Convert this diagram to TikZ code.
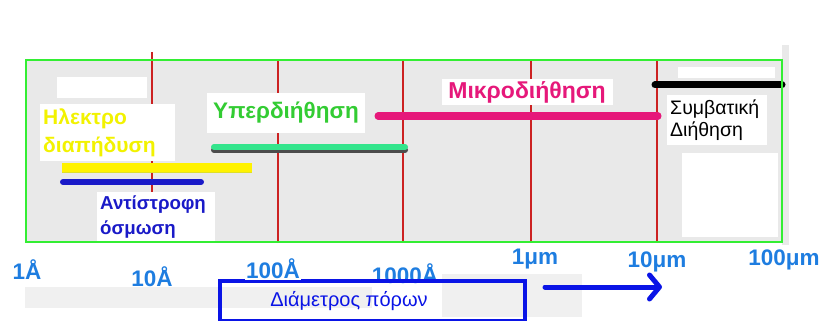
\documentclass[tikz,border=0pt]{standalone}
\usepackage{fontspec}
\setmainfont{Liberation Sans}
\usetikzlibrary{arrows.meta,positioning}

\definecolor{framegreen}{HTML}{33EE33}
\definecolor{gridred}{HTML}{CC2222}
\definecolor{scangray}{HTML}{E9E9E9}
\definecolor{edyellow}{HTML}{F2F200}
\definecolor{ufgreen}{HTML}{33CC33}
\definecolor{ufmint}{HTML}{33E58C}
\definecolor{mfpink}{HTML}{E6187A}
\definecolor{rodark}{HTML}{1A1AC8}
\definecolor{tickblue}{HTML}{1E7DE0}
\definecolor{boxblue}{HTML}{0A14E6}

\begin{document}
\begin{tikzpicture}[x=1pt, y=-1pt,
    every node/.style={inner sep=2pt},
    cover/.style={fill=white, inner sep=3pt, align=left, anchor=north west},
    bar/.style={line width=7pt, line cap=round},
    ticklabel/.style={text=tickblue, font=\bfseries\fontsize{22.5}{24}\selectfont},
]
\useasboundingbox (0,0) rectangle (820,321);

% scanned background and grid
\fill[scangray] (26,60) rectangle (782,242);
\fill[scangray] (782,45) rectangle (789,245);
\fill[gray!12] (25,287) rectangle (372,308);
\fill[gray!12] (442,274) rectangle (582,317);
\foreach \x/\top in {152/52, 278/60, 403/60, 531/60, 657/60}
  \draw[gridred, line width=1.8pt] (\x,\top) -- (\x,242);

% white patches of the scan
\fill[white] (57,77) rectangle (147,98);
\fill[white] (678,67) rectangle (775,78);
\fill[white] (682,153) rectangle (778,237);

% labels of the processes
\node[cover, text=edyellow, font=\bfseries\fontsize{21}{28}\selectfont,
      text width=129pt, minimum height=57pt] (edlabel) at (40,104) {Ηλεκτρο\\διαπήδυση};
\node[fill=white, text=ufgreen, font=\bfseries\fontsize{22.5}{24}\selectfont,
      minimum width=158pt, minimum height=40pt] (uflabel) at (286,113) {Υπερδιήθηση};
\node[fill=white, text=mfpink, font=\bfseries\fontsize{23}{24}\selectfont,
      minimum width=171pt, minimum height=25pt] (mflabel) at (527,92) {Μικροδιήθηση};
\node[cover, text=rodark, font=\bfseries\fontsize{18.7}{25}\selectfont,
      text width=112pt, minimum height=49pt] (rolabel) at (97,192) {Αντίστροφη\\όσμωση};
\node[cover, text=black, font=\fontsize{19.5}{22}\selectfont,
      text width=94pt, minimum height=50pt] (cflabel) at (667,95) {Συμβατική\\Διήθηση};

% ranges
\draw[bar, mfpink] (378,116) -- (658,116);
\draw[bar, black] (655,85) -- (782,85);
\draw[bar, black!70, line width=6pt] (214,150) -- (405,150);
\draw[bar, ufmint, line width=6pt] (214,147) -- (405,147);
\draw[line width=9pt, edyellow!90!black!85] (62,168) -- (252,168);
\draw[line width=9pt, yellow] (62,167) -- (252,167);
\draw[bar, rodark, line width=6pt] (63,182) -- (201,182);

% frame
\draw[framegreen, line width=2.5pt] (26,60) rectangle (782,242);

% scale
\node[ticklabel] (t1) at (27,270) {1Å};
\node[ticklabel] (t2) at (152,277) {10Å};
\node[ticklabel] (t5) at (405,274) {1000Å};
\node[ticklabel] (t6) at (535,259) {1μm};
\node[ticklabel] (t7) at (657,262) {10μm};
\node[ticklabel] (t8) at (784,260) {100μm};

% pore diameter
\node[draw=boxblue, line width=3.5pt, minimum width=305pt, minimum height=40pt,
      anchor=north west] (diam) at (218,279) {};
\node[ticklabel, fill=white, inner sep=1pt] (t3) at (273,269) {100Å};
\node[text=boxblue, font=\fontsize{20}{22}\selectfont] (diamtext) at (349,301) {Διάμετρος πόρων};
\coordinate (arrstart) at (545,287);
\coordinate (arrend) at (662,287);
\draw[boxblue, line width=5pt, line cap=round,
      -{Straight Barb[length=10pt, width=24pt, line width=5pt, round]}] (arrstart) -- (arrend);
\end{tikzpicture}
\end{document}
